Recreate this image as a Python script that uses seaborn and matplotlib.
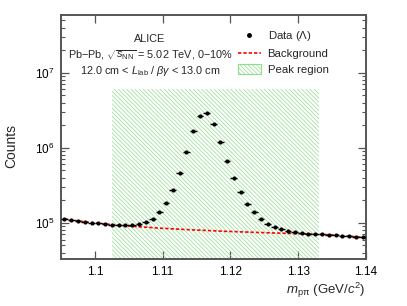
import numpy as np
import pandas as pd
import matplotlib
matplotlib.use('Agg')
import matplotlib.pyplot as plt
import matplotlib.patches as mpatches
from matplotlib.lines import Line2D
from matplotlib.ticker import LogLocator, MultipleLocator, NullLocator
import seaborn as sns

# invariant mass bin centres (GeV/c^2), bin width 1 MeV
mass = [1.0955, 1.0965, 1.0975, 1.0985, 1.0995, 1.1005, 1.1015, 1.1025, 1.1035, 1.1045,
        1.1055, 1.1065, 1.1075, 1.1085, 1.1095, 1.1105, 1.1115, 1.1125, 1.1135, 1.1145,
        1.1155, 1.1165, 1.1175, 1.1185, 1.1195, 1.1205, 1.1215, 1.1225, 1.1235, 1.1245,
        1.1255, 1.1265, 1.1275, 1.1285, 1.1295, 1.1305, 1.1315, 1.1325, 1.1335, 1.1345,
        1.1355, 1.1365, 1.1375, 1.1385, 1.1395]

counts = [1.13e5, 1.10e5, 1.064e5, 1.03e5, 1.01e5, 9.9e4, 9.7e4, 9.5e4, 9.4e4, 9.35e4,
          9.4e4, 9.6e4, 1.02e5, 1.13e5, 1.38e5, 1.84e5, 2.78e5, 4.65e5, 8.7e5, 1.67e6,
          2.67e6, 2.93e6, 2.11e6, 1.2e6, 6.7e5, 3.98e5, 2.57e5, 1.81e5, 1.38e5, 1.13e5,
          9.7e4, 8.8e4, 8.2e4, 7.74e4, 7.5e4, 7.3e4, 7.2e4, 7.07e4, 7.0e4, 6.85e4,
          6.8e4, 6.7e4, 6.6e4, 6.5e4, 6.4e4]

background = [1.131e5, 1.096e5, 1.063e5, 1.034e5, 1.009e5, 9.88e4, 9.67e4, 9.49e4, 9.32e4, 9.15e4,
              9.01e4, 8.87e4, 8.76e4, 8.63e4, 8.52e4, 8.42e4, 8.32e4, 8.24e4, 8.14e4, 8.06e4,
              7.99e4, 7.92e4, 7.85e4, 7.77e4, 7.70e4, 7.66e4, 7.59e4, 7.54e4, 7.47e4, 7.43e4,
              7.38e4, 7.33e4, 7.29e4, 7.24e4, 7.20e4, 7.16e4, 7.11e4, 7.07e4, 7.00e4, 6.94e4,
              6.86e4, 6.75e4, 6.65e4, 6.53e4, 6.41e4]

bin_half_width = 0.0005
peak_region = [1.1025, 1.133]
peak_top = 6.0e6

df = pd.DataFrame({'mass': mass, 'counts': counts, 'bkg': background})

sns.set_theme(style='ticks')
plt.rcParams['font.family'] = ['Liberation Sans', 'DejaVu Sans']
plt.rcParams['mathtext.fontset'] = 'custom'
plt.rcParams['mathtext.rm'] = 'Liberation Sans'
plt.rcParams['mathtext.it'] = 'Liberation Sans:italic'
plt.rcParams['mathtext.bf'] = 'Liberation Sans:bold'
plt.rcParams['hatch.linewidth'] = 0.5

green = '#8ede8e'
frame = '#555555'
hatch = '\\' * 8

fig, ax = plt.subplots(figsize=(4.07, 3.06), dpi=100)
fig.subplots_adjust(left=61/407, right=366/407, top=1-15/306, bottom=1-259/306)

ymin, ymax = 3.3e4, 5.9e7

# peak region
ax.fill_between(peak_region, [ymin, ymin], [peak_top, peak_top], facecolor='none',
                edgecolor=green, hatch=hatch, linewidth=0, zorder=1)

# background fit
sns.lineplot(data=df, x='mass', y='bkg', ax=ax, color='red', lw=1.2,
             linestyle=(0, (2, 1.2)), zorder=3, legend=False)

# data with horizontal bin-width bars
ax.errorbar(df['mass'], df['counts'], xerr=bin_half_width, fmt='none',
            ecolor='black', elinewidth=1.0, zorder=4)
sns.scatterplot(data=df, x='mass', y='counts', ax=ax, color='black', s=9,
                edgecolor='black', linewidth=0, zorder=5, legend=False)

ax.set_yscale('log')
ax.set_xlim(1.095, 1.14)
ax.set_ylim(ymin, ymax)

ax.xaxis.set_major_locator(MultipleLocator(0.01))
ax.xaxis.set_minor_locator(NullLocator())
ax.yaxis.set_major_locator(LogLocator(base=10))
ax.yaxis.set_minor_locator(LogLocator(base=10, subs=np.arange(2, 10)))
ax.yaxis.set_minor_formatter(matplotlib.ticker.NullFormatter())

ax.tick_params(which='both', direction='in', top=True, right=True, color=frame,
               labelsize=8.5, pad=5, labelcolor='black')
ax.tick_params(which='major', length=6, width=0.9)
ax.tick_params(which='minor', length=3, width=0.8)
ax.set_xticks([1.10, 1.11, 1.12, 1.13, 1.14])
ax.set_xticklabels(['1.1', '1.11', '1.12', '1.13', '1.14'])
for s in ax.spines.values():
    s.set_color(frame)
    s.set_linewidth(1.4)

ax.set_xlabel(r'$m_{\mathrm{p\pi}}$ (GeV/$c^2$)', fontsize=9.5, loc='right', labelpad=2)
ax.set_ylabel('Counts', fontsize=10)
ax.yaxis.set_label_coords(-0.14, (259 - 146) / 244)

tx = (150 - 61) / 305
ax.text(tx, 0.902, 'ALICE', transform=ax.transAxes, ha='center', va='center', fontsize=7.8)
ax.text(tx, 0.836, r'Pb$-$Pb, $\sqrt{s_{\mathrm{NN}}}$ = 5.02 TeV, 0$-$10%',
        transform=ax.transAxes, ha='center', va='center', fontsize=7.8)
ax.text(tx, 0.770, r'12.0 cm < $L_{\mathrm{lab}}$ / $\beta\gamma$ < 13.0 cm',
        transform=ax.transAxes, ha='center', va='center', fontsize=7.8)

handles = [
    Line2D([], [], marker='o', color='black', ls='none', markersize=2.5),
    Line2D([], [], color='red', lw=1.2, linestyle=(0, (2, 1.2))),
    mpatches.Patch(facecolor='none', edgecolor=green, hatch=hatch, lw=0.8),
]
labels = [r'Data ($\Lambda$)', 'Background', 'Peak region']
ax.legend(handles, labels, loc='upper left', bbox_to_anchor=((238 - 61) / 305, (259 - 29) / 244),
          frameon=False, fontsize=8.2, borderpad=0, handlelength=2.0, handleheight=1.0,
          handletextpad=0.6, labelspacing=0.45, borderaxespad=0)

fig.savefig('out.png', dpi=100)
